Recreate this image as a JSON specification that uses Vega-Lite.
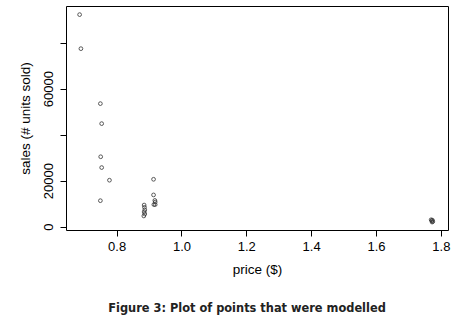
{
  "$schema": "https://vega.github.io/schema/vega-lite/v6.json",
  "width": 382,
  "height": 224,
  "autosize": "none",
  "padding": {"left": 66, "top": 6, "right": 23, "bottom": 87},
  "background": "white",
  "config": {
    "view": {"stroke": "black", "strokeWidth": 1},
    "font": "Liberation Sans"
  },
  "title": {
    "text": "Figure 3: Plot of points that were modelled",
    "orient": "bottom",
    "anchor": "middle",
    "font": "DejaVu Sans",
    "fontWeight": "bold",
    "fontSize": 11.4,
    "color": "#222222",
    "offset": 27,
    "dx": -10
  },
  "data": {
    "values": [
      {"price": 0.686, "sales": 92200},
      {"price": 0.690, "sales": 77400},
      {"price": 0.750, "sales": 53500},
      {"price": 0.754, "sales": 44800},
      {"price": 0.751, "sales": 30400},
      {"price": 0.754, "sales": 25700},
      {"price": 0.778, "sales": 20200},
      {"price": 0.750, "sales": 11300},
      {"price": 0.914, "sales": 20600},
      {"price": 0.914, "sales": 13800},
      {"price": 0.918, "sales": 11400},
      {"price": 0.919, "sales": 10700},
      {"price": 0.919, "sales": 9600},
      {"price": 0.915, "sales": 9600},
      {"price": 0.885, "sales": 9400},
      {"price": 0.886, "sales": 8400},
      {"price": 0.887, "sales": 7300},
      {"price": 0.885, "sales": 6400},
      {"price": 0.887, "sales": 5500},
      {"price": 0.884, "sales": 4650},
      {"price": 1.772, "sales": 2600},
      {"price": 1.775, "sales": 2200},
      {"price": 1.770, "sales": 3000},
      {"price": 1.774, "sales": 2800},
      {"price": 1.773, "sales": 2000}
    ]
  },
  "mark": {"type": "point", "shape": "circle", "filled": false, "stroke": "#333333", "strokeWidth": 0.8, "size": 14, "opacity": 1},
  "encoding": {
    "x": {
      "field": "price",
      "type": "quantitative",
      "scale": {"domain": [0.644, 1.822], "nice": false, "zero": false},
      "axis": {
        "title": "price ($)",
        "values": [0.8, 1.0, 1.2, 1.4, 1.6, 1.8],
        "format": ".1f",
        "grid": false,
        "domain": false,
        "tickColor": "black",
        "tickSize": 6,
        "labelFontSize": 13,
        "labelColor": "black",
        "labelPadding": 4,
        "labelFont": "Liberation Sans",
        "titleFont": "Liberation Sans",
        "titleFontWeight": "normal",
        "titleFontSize": 13.5,
        "titleColor": "black",
        "titlePadding": 9
      }
    },
    "y": {
      "field": "sales",
      "type": "quantitative",
      "scale": {"domain": [-1450, 95950], "nice": false, "zero": false},
      "axis": {
        "title": "sales (# units sold)",
        "values": [0, 20000, 40000, 60000, 80000],
        "format": "d",
        "labelExpr": "datum.value == 40000 || datum.value == 80000 ? '' : datum.label",
        "labelAngle": -90,
        "labelAlign": "center",
        "labelBaseline": "bottom",
        "grid": false,
        "domain": false,
        "tickColor": "black",
        "tickSize": 6,
        "labelFontSize": 13,
        "labelColor": "black",
        "labelPadding": 5,
        "labelFont": "Liberation Sans",
        "titleFont": "Liberation Sans",
        "titleFontWeight": "normal",
        "titleFontSize": 13.5,
        "titleColor": "black",
        "titlePadding": 10
      }
    }
  }
}
